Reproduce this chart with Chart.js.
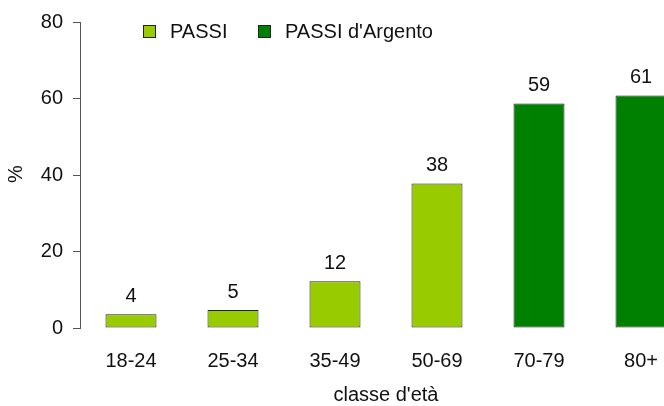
<!DOCTYPE html>
<html lang="it">
<head>
  <meta charset="UTF-8">
  <script src="https://cdn.jsdelivr.net/npm/chart.js"></script>
  <title>PASSI</title>
  <style>
    body{ margin:0; background:#fff; }
    #wrap{ width:664px; height:406px; overflow:hidden; }
    #box{ width:700px; height:406px; }
  </style>
</head>
<body>
  <div id="wrap">
    <div id="box"><canvas id="myChart" width="700" height="406"></canvas></div>
  </div>
  <script>
    // dati
    var classi = ['18-24', '25-34', '35-49', '50-69', '70-79', '80+'];
    var valori = [3.6, 4.7, 12.2, 37.8, 58.7, 60.8];
    var etichette = ['4', '5', '12', '38', '59', '61'];
    var fonte = ['PASSI', 'PASSI', 'PASSI', 'PASSI', "PASSI d'Argento", "PASSI d'Argento"];
    var yTicks = [0, 20, 40, 60, 80];

    var colori = { 'PASSI': '#99cc00', "PASSI d'Argento": '#008000' };
    var FONT = 'Liberation Sans, Arial, sans-serif';

    // etichette sopra le barre + legenda + titoli assi
    var extra = {
      id: 'extra',
      afterDraw: function(chart){
        var c = chart.ctx;
        var meta = chart.getDatasetMeta(0);
        var area = chart.chartArea;
        c.save();
        c.fillStyle = '#111';
        c.font = '20px ' + FONT;
        c.textAlign = 'center';
        c.textBaseline = 'alphabetic';
        meta.data.forEach(function(bar, i){
          c.fillText(etichette[i], bar.x, bar.y - 12);
        });

        // titolo asse x
        c.textBaseline = 'middle';
        c.fillText("classe d'età", (area.left + area.right) / 2, 395);

        // legenda
        var voci = ['PASSI', "PASSI d'Argento"];
        var pos = [[143, 170], [258, 285]];
        c.textAlign = 'left';
        voci.forEach(function(v, i){
          c.fillStyle = colori[v];
          c.fillRect(pos[i][0] + 0.5, 25.5, 12, 12);
          c.strokeStyle = '#222';
          c.lineWidth = 1;
          c.strokeRect(pos[i][0] + 0.5, 25.5, 12, 12);
          c.fillStyle = '#111';
          c.fillText(v, pos[i][1], 32);
        });

        // "%"
        c.translate(16, 174);
        c.rotate(-Math.PI / 2);
        c.textAlign = 'center';
        c.fillText('%', 0, 0);
        c.restore();
      }
    };

    new Chart(document.getElementById('myChart'), {
      type: 'bar',
      data: {
        labels: classi,
        datasets: [{
          data: valori,
          backgroundColor: fonte.map(function(f){ return colori[f]; }),
          borderColor: '#222',
          borderWidth: 1,
          borderSkipped: false,
          barPercentage: 0.5,
          categoryPercentage: 1.0
        }]
      },
      options: {
        responsive: false,
        animation: false,
        layout: { padding: { top: 20, right: 8, left: 0, bottom: 0 } },
        plugins: { legend: { display: false }, tooltip: { enabled: false } },
        scales: {
          x: {
            grid: { display: false },
            border: { display: false },
            ticks: { color: '#111', font: { size: 20, family: FONT }, padding: 13 },
            afterFit: function(s){ s.height = 78; }
          },
          y: {
            min: 0,
            max: 80,
            afterBuildTicks: function(s){ s.ticks = yTicks.map(function(v){ return { value: v }; }); },
            grid: { drawOnChartArea: false, drawTicks: true, tickLength: 7, color: '#555' },
            border: { display: true, color: '#555' },
            ticks: { color: '#111', font: { size: 20, family: FONT }, padding: 10 },
            afterFit: function(s){ s.width = 80; }
          }
        }
      },
      plugins: [extra]
    });
  </script>
</body>
</html>
